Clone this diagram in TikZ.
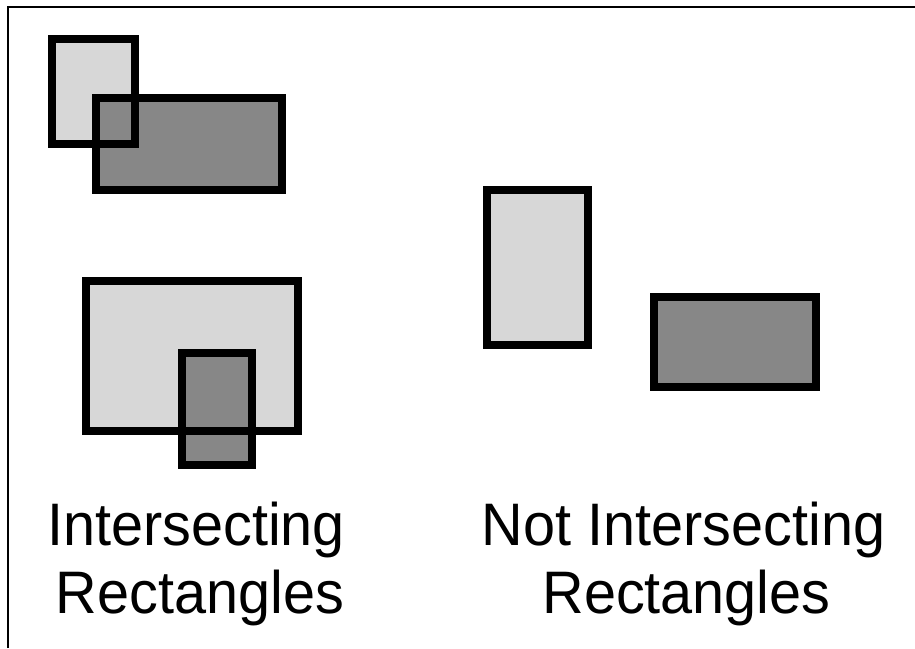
\documentclass[tikz,border=0pt]{standalone}
\usepackage{fontspec}
\setmainfont{Liberation Sans}
\newfontfamily\labelfont[FakeStretch=0.96]{Liberation Sans}
\definecolor{lightbox}{HTML}{D7D7D7}
\definecolor{darkbox}{HTML}{878787}
\begin{document}
\begin{tikzpicture}[x=1pt,y=-1pt,
  boxedge/.style={draw=black,line width=8pt,line join=miter},
  label/.style={font=\labelfont\fontsize{60}{69}\selectfont,anchor=base,inner sep=0pt}]
\useasboundingbox (0,0) rectangle (915,648);
% frame (top and left only)
\draw[line width=2pt] (8,648) -- (8,7) -- (915,7);
% fills first
\fill[lightbox] (52,39) rectangle (135,144);
\fill[darkbox] (96,98) rectangle (282,190);
\fill[lightbox] (86,281) rectangle (298,431);
\fill[darkbox] (182,353) rectangle (252,465);
\fill[lightbox] (487,190) rectangle (588,345);
\fill[darkbox] (654,297) rectangle (816,387);
% borders
\draw[boxedge] (52,39) rectangle (135,144);
\draw[boxedge] (96,98) rectangle (282,190);
\draw[boxedge] (86,281) rectangle (298,431);
\draw[boxedge] (182,353) rectangle (252,465);
\draw[boxedge] (487,190) rectangle (588,345);
\draw[boxedge] (654,297) rectangle (816,387);
% labels
\node[label] (l1) at (196,545) {Intersecting};
\node[label] (l2) at (200,613) {Rectangles};
\node[label] (r1) at (683.5,545) {Not Intersecting};
\node[label] (r2) at (686.5,613) {Rectangles};
\end{tikzpicture}
\end{document}
